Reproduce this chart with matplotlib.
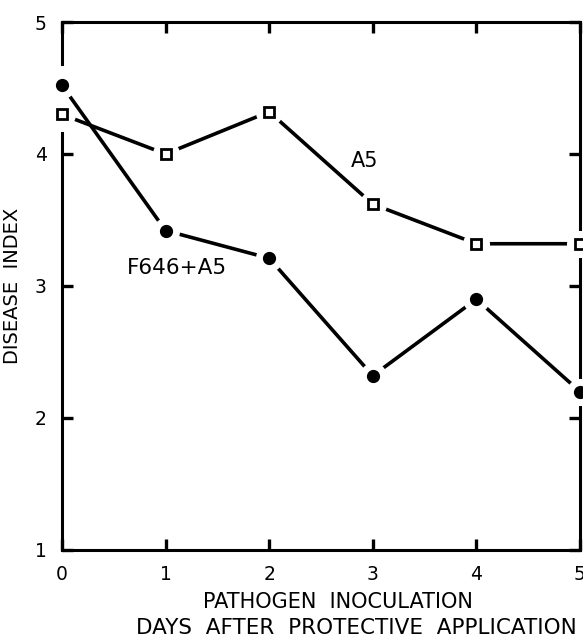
import matplotlib
matplotlib.use("Agg")
import matplotlib.pyplot as plt

# data
days = [0, 1, 2, 3, 4, 5]
a5 = [4.3, 4.0, 4.32, 3.62, 3.32, 3.32]
f646_a5 = [4.52, 3.42, 3.21, 2.32, 2.9, 2.2]

x_ticks = [0, 1, 2, 3, 4, 5]
x_ticklabels = ["0", "1", "2", "3", "4", "5"]
y_ticks = [1, 2, 3, 4, 5]
y_ticklabels = ["1", "2", "3", "4", "5"]

plt.rcParams["font.family"] = ["DejaVu Sans"]

fig = plt.figure(figsize=(5.83, 6.38), dpi=100)
ax = fig.add_axes([0.1063, 0.138, 0.8885, 0.8275])

lw = 2.6
for ys in [a5, f646_a5]:
    ax.plot(days, ys, color="black", lw=lw, solid_capstyle="butt",
            zorder=2, clip_on=False)
for ys in [a5, f646_a5]:
    # white halo around each marker gives the broken-line look
    ax.plot(days, ys, ls="none", marker="o", ms=19.5, mfc="white",
            mec="none", zorder=3, clip_on=False)
for ys, mk, fill, ms in [(a5, "s", "white", 6.5), (f646_a5, "o", "black", 7.5)]:
    ax.plot(days, ys, ls="none", marker=mk, ms=ms, mfc=fill,
            mec="black", mew=2.0, zorder=4, clip_on=False)

ax.set_xlim(0, 5)
ax.set_ylim(1, 5)

for side in ["top", "right", "bottom"]:
    ax.spines[side].set_linewidth(2.2)
ax.spines["left"].set_visible(False)
# left axis line, broken where the first markers sit
ax.axvline(0, ymin=0, ymax=0.79, color="black", lw=2.2, clip_on=False,
           zorder=1)
ax.axvline(0, ymin=0.92, ymax=1, color="black", lw=2.2, clip_on=False,
           zorder=1)

ax.set_xticks(x_ticks)
ax.set_xticklabels(x_ticklabels)
ax.set_yticks(y_ticks)
ax.set_yticklabels(y_ticklabels)
ax.tick_params(direction="in", length=8, width=2.4, top=True, right=True,
               labelsize=13.5, pad=11)

ax.text(2.92, 3.95, "A5", fontsize=15, ha="center", va="center")
ax.text(1.105, 3.14, "F646+A5", fontsize=15.5, ha="center", va="center")

ax.set_ylabel("DISEASE  INDEX", fontsize=14, labelpad=9)
fig.text(0.58, 0.056, "PATHOGEN  INOCULATION", fontsize=15,
         ha="center", va="center")
fig.text(0.612, 0.016, "DAYS  AFTER  PROTECTIVE  APPLICATION", fontsize=15.5,
         ha="center", va="center")

fig.savefig("out.png", dpi=100, facecolor="white")
